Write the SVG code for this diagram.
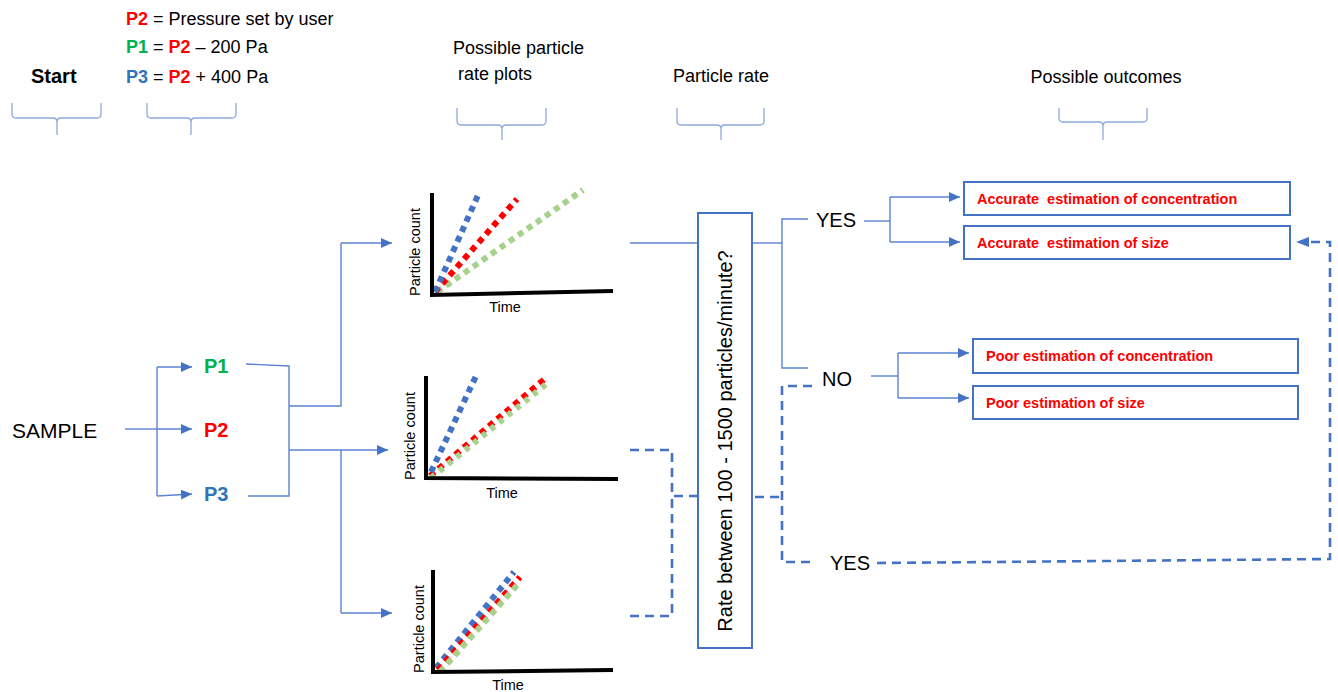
<svg xmlns="http://www.w3.org/2000/svg" width="1338" height="692" viewBox="0 0 1338 692">
<defs>
<marker id="ah" markerUnits="userSpaceOnUse" markerWidth="12" markerHeight="10" refX="11" refY="5" orient="auto">
<path d="M0,0 L11,5 L0,10 z" fill="#4472C4"/>
</marker>
<style>
text{font-family:"Liberation Sans",Arial,sans-serif;fill:#000}
.hdr{font-size:18px}
.brace{fill:none;stroke:#8EA9DB;stroke-width:1.3}
.ln{fill:none;stroke:#5B84D1;stroke-width:1.4}
.arr{fill:none;stroke:#5B84D1;stroke-width:1.4;marker-end:url(#ah)}
.dash{fill:none;stroke:#4472C4;stroke-width:2.6;stroke-dasharray:9 6}
.box{fill:#fff;stroke:#4472C4;stroke-width:2}
.out{font-size:14.5px;font-weight:bold;fill:#FF0000;white-space:pre}
.ax{fill:none;stroke:#000;stroke-width:4}
.dot{fill:none;stroke-width:6;stroke-dasharray:6 5}
.b{stroke:#4472C4}.r{stroke:#FF0000}.g{stroke:#A9D18E}
.pc{font-size:14.5px}
.red{fill:#FF0000;font-weight:bold}.grn{fill:#00B050;font-weight:bold}.blu{fill:#2E75B6;font-weight:bold}
</style>
</defs>
<rect width="1338" height="692" fill="#fff"/>

<g id="headers">
<text x="31" y="83" style="font-size:20px;font-weight:bold">Start</text>
<text x="126" y="25" style="font-size:18px"><tspan class="red">P2</tspan> = Pressure set by user</text>
<text x="126" y="53" style="font-size:18px"><tspan class="grn">P1</tspan> = <tspan class="red">P2</tspan> – 200 Pa</text>
<text x="126" y="83" style="font-size:18px"><tspan class="blu">P3</tspan> = <tspan class="red">P2</tspan> + 400 Pa</text>
<text class="hdr" x="453" y="54">Possible particle</text>
<text class="hdr" x="458" y="80">rate plots</text>
<text class="hdr" x="721" y="82" text-anchor="middle">Particle rate</text>
<text class="hdr" x="1106" y="83" text-anchor="middle">Possible outcomes</text>
<path class="brace" d="M12,103 V114 Q12,118 16,118 H53 Q57,118 57,122 V135 M57,122 Q57,118 61,118 H97 Q101,118 101,114 V103"/>
<path class="brace" d="M147,103 V114 Q147,118 151,118 H187 Q191,118 191,122 V135 M191,122 Q191,118 195,118 H232 Q236,118 236,114 V103"/>
<path class="brace" d="M457,108 V121 Q457,125 461,125 H498 Q502,125 502,129 V140 M502,129 Q502,125 506,125 H542 Q546,125 546,121 V108"/>
<path class="brace" d="M677,108 V121 Q677,125 681,125 H717 Q721,125 721,129 V140 M721,129 Q721,125 725,125 H760 Q764,125 764,121 V108"/>
<path class="brace" d="M1059,108 V118 Q1059,122 1063,122 H1099 Q1103,122 1103,126 V140 M1103,126 Q1103,122 1107,122 H1143 Q1147,122 1147,118 V108"/>
</g>

<g id="connectors">
<path class="ln" d="M125,429 H157"/>
<path class="arr" d="M157,429 H192"/>
<path class="ln" d="M157,367 V496"/>
<path class="arr" d="M157,367 H192"/>
<path class="arr" d="M157,496 L192,494"/>
<path class="ln" d="M246,364 L289,366 V496 H248"/>
<path class="ln" d="M289,406 H341 V243"/>
<path class="arr" d="M341,243 H392"/>
<path class="arr" d="M289,450 H388"/>
<path class="ln" d="M341,450 V613"/>
<path class="arr" d="M341,613 H392"/>
<path class="ln" d="M630,243 H698"/>
<path class="ln" d="M752,243 H782"/>
<path class="ln" d="M808,219 H782 V368 H808"/>
<path class="ln" d="M864,221 H890"/>
<path class="ln" d="M890,197 V242"/>
<path class="arr" d="M890,197 H960"/>
<path class="arr" d="M890,242 H960"/>
<path class="ln" d="M871,376 H898"/>
<path class="ln" d="M898,353 V398"/>
<path class="arr" d="M898,353 H969"/>
<path class="arr" d="M898,398 H969"/>
<path class="dash" d="M630,450 H672 V496 H698"/>
<path class="dash" d="M630,616 H672 V496"/>
<path class="dash" d="M755,497 H782"/>
<path class="dash" d="M812,386 H782 V562 H812"/>
<path class="dash" d="M877,563 L1330,559 V242 H1310"/>
<path d="M1296,242 L1309,237 L1309,247 z" fill="#4472C4"/>
</g>

<g id="sample">
<text x="12" y="438" style="font-size:21px">SAMPLE</text>
</g>
<g id="p1"><text x="204" y="373" class="grn" style="font-size:20px">P1</text></g>
<g id="p2"><text x="204" y="437" class="red" style="font-size:20px">P2</text></g>
<g id="p3"><text x="204" y="501" class="blu" style="font-size:20px">P3</text></g>

<g id="plot1">
<path class="dot g" d="M437,292 L583,190"/>
<path class="dot r" d="M435,292 L517,199"/>
<path class="dot b" d="M435,292 L479,193"/>
<path class="ax" d="M432,193 V295 L613,291"/>
<text class="pc" transform="translate(420,252) rotate(-90)" text-anchor="middle">Particle count</text>
<text class="pc" x="505" y="312" text-anchor="middle">Time</text>
</g>

<g id="plot2">
<path class="dot r" d="M430,476 L547,377"/>
<path class="dot g" d="M431,478 L550,381" style="stroke-dasharray:5 6"/>
<path class="dot b" d="M431,472 L476,376"/>
<path class="ax" d="M426,376 V478 L618,479"/>
<text class="pc" transform="translate(415,436) rotate(-90)" text-anchor="middle">Particle count</text>
<text class="pc" x="502" y="498" text-anchor="middle">Time</text>
</g>

<g id="plot3">
<path class="dot b" d="M436,668 L514,572"/>
<path class="dot r" d="M438,670 L520,577"/>
<path class="dot g" d="M440,672 L520,582"/>
<path class="ax" d="M433,570 V672 L613,670"/>
<text class="pc" transform="translate(424,629) rotate(-90)" text-anchor="middle">Particle count</text>
<text class="pc" x="508" y="690" text-anchor="middle">Time</text>
</g>

<g id="rate">
<rect class="box" x="698" y="213" width="54" height="435"/>
<text transform="translate(732,441) rotate(-90)" text-anchor="middle" style="font-size:20px">Rate between 100 - 1500 particles/minute?</text>
</g>

<g id="yes1"><text x="816" y="227" style="font-size:20px">YES</text></g>
<g id="no"><text x="822" y="386" style="font-size:20px">NO</text></g>
<g id="yes2"><text x="830" y="570" style="font-size:20px">YES</text></g>

<g id="acc-conc">
<rect class="box" x="964" y="182" width="326" height="33"/>
<text class="out" x="977" y="204">Accurate  estimation of concentration</text>
</g>
<g id="acc-size">
<rect class="box" x="964" y="226" width="326" height="33"/>
<text class="out" x="977" y="248">Accurate  estimation of size</text>
</g>
<g id="poor-conc">
<rect class="box" x="973" y="339" width="325" height="34"/>
<text class="out" x="986" y="361">Poor estimation of concentration</text>
</g>
<g id="poor-size">
<rect class="box" x="973" y="386" width="325" height="33"/>
<text class="out" x="986" y="408">Poor estimation of size</text>
</g>
</svg>
